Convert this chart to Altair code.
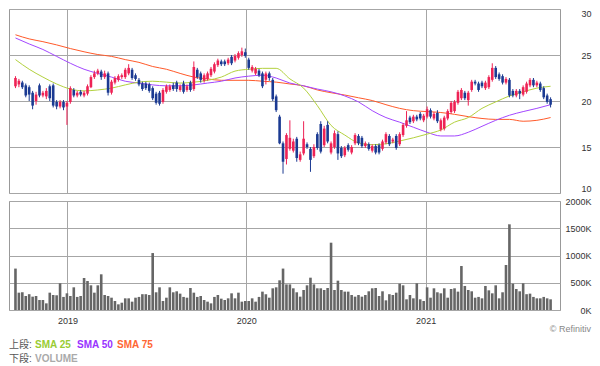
import altair as alt
import pandas as pd

# ---------------- data ----------------
dates = pd.date_range("2018-09-17", periods=157, freq="7D")

open_ = [21.6, 21.8, 22.0, 21.7, 21.5, 20.9, 20.0, 21.7, 20.6, 20.5,
         21.6, 21.7, 19.9, 19.4, 19.9, 19.4, 19.9, 21.2, 20.6, 21.0,
         20.6, 20.8, 21.5, 22.6, 23.0, 23.2, 22.6, 23.0, 20.9, 22.0,
         22.3, 22.6, 22.6, 23.0, 23.4, 22.8, 22.3, 21.9, 21.9, 21.8,
         21.4, 20.8, 20.9, 19.9, 21.0, 21.2, 21.7, 22.0, 21.2, 21.9,
         21.2, 22.0, 21.3, 23.4, 23.0, 22.2, 22.4, 22.8, 23.2, 23.9,
         24.3, 24.3, 24.1, 24.8, 24.4, 24.7, 25.0, 25.3, 24.5, 23.3,
         23.0, 23.3, 23.0, 22.3, 23.0, 22.3, 20.5, 18.3, 15.4, 13.7,
         14.8, 14.6, 15.9, 13.6, 14.3, 15.3, 14.8, 14.0, 16.4, 17.5,
         15.2, 17.4, 14.4, 15.0, 16.4, 14.9, 14.1, 15.2, 14.4, 15.4,
         16.2, 16.0, 15.1, 15.3, 14.6, 15.1, 15.2, 14.8, 15.5, 16.2,
         15.6, 16.2, 15.3, 16.3, 17.3, 18.2, 17.8, 18.3, 18.6, 17.9,
         18.3, 19.0, 18.1, 18.7, 16.9, 17.0, 18.1, 18.8, 18.9, 19.8,
         20.3, 20.9, 20.1, 21.2, 22.1, 21.9, 22.0, 21.4, 21.5, 22.3,
         23.6, 22.9, 22.7, 22.0, 22.3, 21.1, 20.6, 21.1, 20.7, 21.0,
         21.7, 22.3, 21.7, 21.9, 21.4, 20.6, 20.2]
close_ = [22.5, 22.2, 21.5, 20.6, 20.7, 19.5, 20.7, 20.6, 20.9, 21.1,
          20.3, 19.5, 19.4, 19.9, 19.3, 19.8, 21.4, 20.6, 20.9, 20.7,
          20.9, 21.6, 22.6, 23.0, 23.3, 22.6, 23.0, 20.9, 22.1, 22.5,
          22.7, 22.8, 23.4, 23.6, 22.5, 22.4, 21.8, 21.3, 21.4, 21.1,
          20.3, 19.8, 19.7, 21.2, 21.6, 21.6, 21.3, 21.3, 21.6, 21.0,
          21.6, 21.2, 23.7, 22.6, 22.3, 22.8, 23.0, 23.5, 24.0, 24.4,
          24.0, 24.0, 24.5, 24.1, 24.9, 25.2, 25.4, 24.9, 23.6, 23.7,
          23.5, 22.8, 21.6, 23.0, 22.5, 20.2, 19.0, 15.4, 13.4, 16.3,
          16.0, 15.6, 13.8, 14.2, 15.9, 15.0, 13.6, 15.0, 14.9, 14.5,
          17.0, 15.6, 15.4, 16.5, 14.3, 14.0, 14.9, 14.7, 15.0, 16.3,
          15.4, 15.1, 15.4, 14.8, 15.1, 14.4, 14.4, 15.6, 16.4, 15.3,
          15.8, 14.9, 16.4, 17.4, 17.9, 17.7, 18.3, 18.0, 18.1, 18.4,
          19.1, 18.3, 18.6, 17.8, 17.9, 18.2, 18.9, 19.8, 19.9, 21.0,
          21.2, 20.3, 20.9, 22.1, 21.9, 21.2, 21.6, 22.0, 22.6, 23.6,
          22.6, 22.4, 22.0, 22.4, 20.6, 20.6, 21.1, 20.8, 21.5, 21.9,
          22.3, 21.7, 22.0, 21.2, 20.4, 19.9, 19.6]
high_ = [22.7, 22.4, 22.2, 21.9, 21.7, 21.1, 21.0, 21.9, 21.1, 21.4,
         21.8, 21.9, 20.1, 20.1, 20.1, 20.0, 21.6, 21.4, 21.1, 21.2,
         21.1, 21.8, 22.8, 23.3, 23.5, 23.4, 23.3, 23.2, 22.3, 22.7,
         22.9, 23.0, 23.6, 24.0, 23.6, 23.0, 22.5, 22.1, 22.1, 22.0,
         21.6, 21.0, 21.1, 21.4, 21.8, 21.8, 22.0, 22.2, 21.8, 22.2,
         21.8, 22.2, 24.3, 23.6, 23.2, 23.0, 23.2, 23.7, 24.2, 24.6,
         24.5, 24.5, 24.7, 25.0, 25.1, 25.4, 25.8, 25.7, 24.7, 23.9,
         23.7, 23.5, 23.2, 23.2, 23.2, 22.5, 20.7, 18.5, 15.6, 16.5,
         17.9, 15.9, 16.1, 14.5, 17.8, 15.5, 15.0, 15.3, 16.6, 17.8,
         17.3, 17.8, 15.6, 16.8, 16.7, 15.1, 15.1, 15.4, 15.2, 16.5,
         16.4, 16.2, 15.6, 15.5, 15.3, 15.3, 15.4, 15.8, 16.6, 16.4,
         16.0, 16.4, 16.6, 17.6, 18.9, 18.4, 18.5, 18.5, 18.8, 18.6,
         19.4, 19.2, 18.8, 19.0, 18.1, 18.4, 19.1, 20.0, 20.1, 21.2,
         21.4, 21.1, 21.1, 22.3, 22.3, 22.1, 22.2, 22.2, 22.8, 24.1,
         23.8, 23.1, 22.9, 22.6, 22.5, 21.3, 21.3, 21.3, 21.7, 22.1,
         22.5, 22.5, 22.2, 22.1, 21.6, 20.8, 20.4]
low_ = [21.4, 21.5, 21.3, 20.4, 20.0, 19.1, 19.6, 20.4, 20.4, 20.2,
        20.0, 19.3, 19.1, 19.2, 19.0, 17.4, 19.7, 20.4, 20.4, 20.5,
        20.4, 20.6, 21.4, 22.4, 22.8, 22.3, 22.4, 20.6, 20.7, 21.8,
        22.1, 22.4, 22.4, 22.8, 22.3, 22.2, 21.6, 21.1, 21.2, 20.9,
        20.1, 19.6, 19.5, 19.7, 20.8, 21.0, 21.1, 21.0, 21.0, 20.8,
        21.0, 21.0, 21.1, 22.4, 22.0, 22.0, 22.2, 22.6, 23.0, 23.7,
        23.8, 23.8, 23.9, 23.9, 24.2, 24.5, 24.8, 24.7, 23.4, 23.1,
        22.8, 22.6, 21.4, 21.8, 22.2, 20.0, 18.8, 15.3, 12.1, 13.1,
        14.6, 14.4, 13.4, 13.4, 14.1, 14.8, 12.3, 13.8, 14.7, 14.3,
        15.0, 15.4, 14.2, 14.8, 13.6, 13.8, 13.9, 14.5, 14.2, 15.2,
        15.2, 14.9, 14.9, 14.6, 14.4, 14.2, 14.2, 14.6, 15.3, 15.1,
        15.4, 14.7, 15.1, 16.1, 17.1, 17.5, 17.6, 17.8, 17.9, 17.7,
        18.1, 18.1, 17.9, 17.6, 16.7, 16.8, 17.9, 18.6, 18.7, 19.6,
        20.1, 20.1, 19.5, 21.0, 21.7, 21.0, 21.4, 21.2, 21.3, 22.1,
        22.4, 22.2, 21.8, 21.8, 20.4, 20.4, 20.4, 20.2, 20.5, 20.8,
        21.5, 21.5, 21.5, 21.0, 20.2, 19.7, 19.3]
volume_k = [760, 318, 325, 257, 290, 245, 257, 183, 183, 122,
            318, 275, 270, 490, 240, 306, 257, 416, 240, 257,
            587, 532, 453, 318, 453, 655, 275, 257, 226, 165,
            104, 134, 214, 214, 153, 226, 240, 290, 290, 275,
            1045, 325, 416, 165, 226, 416, 325, 343, 300, 240,
            226, 404, 318, 240, 257,
            183, 153, 122, 240, 275, 208, 183, 214, 306, 214,
            318, 153, 165, 165, 214, 153, 240, 337, 290, 226,
            398, 416, 545, 760, 470, 470, 398, 325, 245, 367,
            453, 593, 470, 398, 398, 367, 404, 1235, 367, 538,
            367, 337, 337, 275, 245, 275, 245, 275, 343, 398,
            404, 257, 343, 177, 290, 275, 318,
            483, 453, 196, 275, 214, 490, 196, 165, 416, 226,
            398, 325, 306, 398, 226, 385, 398, 337, 807, 441,
            367, 343, 226, 240, 214, 441, 361, 306, 453, 214,
            325, 826, 1572, 483, 385, 343, 490, 290, 300, 240,
            214, 214, 240, 214, 196]

# moving averages, read every 4th week
sma25 = [24.5, 23.45, 22.6, 21.85, 21.3, 21.1, 21.2, 21.4, 21.75, 22.05,
         22.15, 22.05, 21.95, 22.05, 22.25, 22.6, 23.25, 23.45, 23.55, 23.55,
         22.4, 21.4, 19.5, 17.35, 16.3, 15.45, 15.25, 15.35, 15.65, 16.0,
         16.4, 16.85, 17.7, 18.2, 19.2, 19.9, 20.55, 21.0, 21.4, 21.6]
sma50 = [26.85, 26.2, 25.6, 24.85, 24.1, 23.45, 23.0, 22.6, 22.15, 21.95,
         21.75, 21.65, 21.65, 21.75, 21.95, 22.15, 22.5, 22.7, 22.8, 22.5,
         21.95, 21.65, 21.3, 21.0, 20.55, 19.9, 18.95, 18.2, 17.7, 17.15,
         16.6, 16.2, 16.2, 16.6, 17.25, 17.9, 18.45, 18.85, 19.2, 19.6]
sma75 = [27.2, 26.75, 26.45, 26.1, 25.7, 25.35, 25.05, 24.85, 24.5, 24.2,
         23.75, 23.45, 23.0, 22.6, 22.4, 22.25, 22.25, 22.25, 22.15, 22.05,
         21.85, 21.65, 21.2, 20.9, 20.65, 20.35, 20.05, 19.6, 19.2, 18.95,
         18.85, 18.75, 18.55, 18.3, 18.1, 18.0, 18.0, 17.8, 17.9, 18.2]
sma_dates = dates[::4]

price_ticks = [10, 15, 20, 25, 30]
volume_ticks = [0, 500, 1000, 1500, 2000]
years = [2019, 2020, 2021]

df = pd.DataFrame({"date": dates, "open": open_, "close": close_,
                   "high": high_, "low": low_, "volume": volume_k})
df["dir"] = ["up" if c >= o else "down" for o, c in zip(open_, close_)]
sma_df = pd.DataFrame({"date": sma_dates, "s25": sma25, "s50": sma50, "s75": sma75})

# ---------------- styling ----------------
UP, DOWN = "#ee2255", "#1b3a92"
FONT = "Liberation Sans"
LEGEND_FONT = "Liberation Sans, Noto Sans CJK JP"
W = 551

year_vals = [alt.DateTime(year=y, month=1, date=1) for y in years]
xscale = alt.Scale(domain=[alt.DateTime(year=2018, month=9, date=14),
                           alt.DateTime(year=2021, month=9, date=22)])
color = alt.Color("dir:N", scale=alt.Scale(domain=["up", "down"], range=[UP, DOWN]), legend=None)

x_top = alt.X("date:T", scale=xscale,
              axis=alt.Axis(values=year_vals, grid=True, labels=False, ticks=False,
                            domain=False, title=None))
y_price = alt.Y("low:Q", scale=alt.Scale(domain=[10, 30], nice=False, zero=False),
                axis=alt.Axis(orient="right", values=price_ticks, grid=True, ticks=False,
                              domain=False, labelAlign="right", labelPadding=31,
                              labelFlush=True, title=None))

base = alt.Chart(df)
wicks = base.mark_rule(strokeWidth=1).encode(x=x_top, y=y_price, y2="high:Q", color=color)
bodies = base.mark_bar(size=2.6).encode(x=x_top, y="open:Q", y2="close:Q", color=color)

sma_base = alt.Chart(sma_df)
l25 = sma_base.mark_line(color="#b3d13e", strokeWidth=1, interpolate="monotone").encode(x=x_top, y="s25:Q")
l50 = sma_base.mark_line(color="#a347ff", strokeWidth=1, interpolate="monotone").encode(x=x_top, y="s50:Q")
l75 = sma_base.mark_line(color="#ff5a2a", strokeWidth=1, interpolate="monotone").encode(x=x_top, y="s75:Q")

top = alt.layer(l75, l50, l25, wicks, bodies).properties(width=W, height=184)

x_vol = alt.X("date:T", scale=xscale,
              axis=alt.Axis(values=year_vals, format="%Y", grid=True, ticks=False, domain=False,
                            labelPadding=6, title=None))
vol = base.mark_bar(size=2.6, color="#666666").encode(
    x=x_vol,
    y=alt.Y("volume:Q", scale=alt.Scale(domain=[0, 2000], nice=False),
            axis=alt.Axis(orient="right", values=volume_ticks, grid=True, ticks=False,
                          domain=False, labelAlign="right", labelPadding=31,
                          labelExpr="datum.value + 'K'", title=None)))


def note(txt, x, y, col, bold=False, align="left", size=10, font=LEGEND_FONT):
    return alt.Chart(alt.Data(values=[{}])).mark_text(
        text=txt, align=align, baseline="middle", font=font, fontSize=size,
        fontWeight="bold" if bold else "normal", color=col
    ).encode(x=alt.value(x), y=alt.value(y))


notes = [
    note("© Refinitiv", 582, 128, "#888888", align="right", size=9, font=FONT),
    note("上段:", 0, 144, "#555555"),
    note("SMA 25", 26, 144, "#99cc33", bold=True),
    note("SMA 50", 68, 144, "#9933ff", bold=True),
    note("SMA 75", 108, 144, "#ff6633", bold=True),
    note("下段:", 0, 158, "#555555"),
    note("VOLUME", 26, 158, "#aaaaaa", bold=True),
]

bottom = alt.layer(vol, *notes).properties(width=W, height=109)

chart = alt.vconcat(top, bottom, spacing=8, bounds="flush").properties(
    padding={"left": 0, "top": 0, "right": 0, "bottom": 0}
).configure_view(stroke="#999999", strokeWidth=1).configure_axis(
    gridColor="#a6a6a6", gridWidth=1, labelFont=FONT, labelFontSize=9, labelColor="#333333"
)

chart.save("out.html", embed_options={"renderer": "svg", "actions": False})
